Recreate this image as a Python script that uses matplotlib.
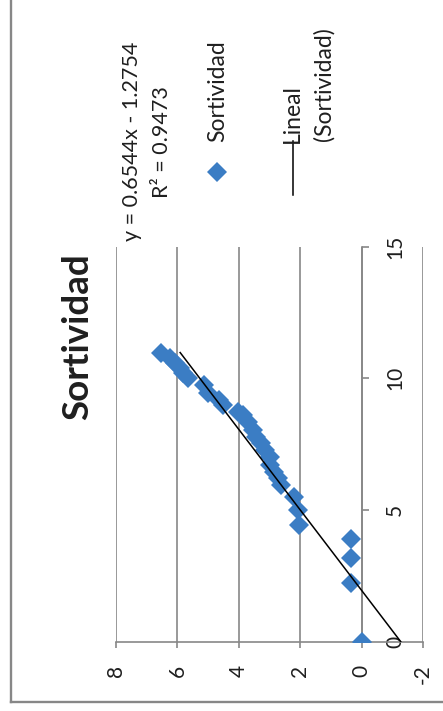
import matplotlib
matplotlib.use("Agg")
import matplotlib.pyplot as plt
from matplotlib.lines import Line2D
import numpy as np

plt.rcParams['font.family'] = ['Lato', 'DejaVu Sans']
plt.rcParams['axes.unicode_minus'] = False

# data (x = time-like axis, y = sortividad)
x_vals = [0.0, 2.22, 3.17, 3.89, 4.43, 5.0, 5.51, 5.95, 6.2, 6.46, 6.71, 7.03,
          7.28, 7.53, 7.79, 8.04, 8.36, 8.61, 8.74, 8.99, 9.18, 9.43, 9.75,
          10.0, 10.19, 10.38, 10.57, 10.76, 10.98]
y_vals = [0.0, 0.33, 0.33, 0.33, 2.03, 2.08, 2.19, 2.62, 2.73, 2.84, 3.0, 3.0,
          3.16, 3.27, 3.43, 3.54, 3.71, 3.87, 4.03, 4.52, 4.63, 5.01, 5.12,
          5.66, 5.82, 5.93, 6.09, 6.25, 6.52]
slope, intercept = 0.6544, -1.2754
r2 = 0.9473
x_ticks = [0, 5, 10, 15]
y_ticks = [8, 6, 4, 2, 0, -2]

blue = '#3b7dc4'
gray = '#878787'
txt = '#1f1f1f'
msize = 10.5

W, H = 443, 711
fig = plt.figure(figsize=(W / 100, H / 100), dpi=100)

# chart is drawn rotated 90 degrees: horizontal = y (reversed), vertical = x
left, right, top, bottom = 116, 423, 246.7, 641.7
ax = fig.add_axes([left / W, 1 - bottom / H, (right - left) / W, (bottom - top) / H])
ax.set_xlim(8, -2)
ax.set_ylim(0, 15)

ax.plot(y_vals, x_vals, linestyle='none', marker='D', markersize=msize,
        color=blue, markeredgewidth=0, zorder=3)
xf = np.array([0, max(x_vals)])
ax.plot(slope * xf + intercept, xf, color='black', lw=1.1, zorder=4)

ax.set_xticks(y_ticks)
ax.set_xticklabels([str(v) for v in y_ticks])
ax.set_yticks(x_ticks)
ax.set_yticklabels([str(v) for v in x_ticks])
ax.grid(axis='x', color=gray, lw=1.2)
ax.set_axisbelow(True)

for s in ['top', 'left']:
    ax.spines[s].set_visible(False)
ax.spines['bottom'].set_color(gray)
ax.spines['bottom'].set_linewidth(1.2)
ax.spines['right'].set_position(('data', 0))
ax.spines['right'].set_color(gray)
ax.spines['right'].set_linewidth(1.2)
ax.yaxis.set_ticks_position('right')

ax.tick_params(axis='x', direction='out', length=4.5, width=1.2, color=gray,
               labelsize=15, labelrotation=90, pad=12, labelcolor=txt)
ax.tick_params(axis='y', direction='out', length=5, width=1.2, color=gray,
               labelsize=15, labelrotation=90, pad=12, labelcolor=txt)
for lab in ax.get_yticklabels():
    lab.set_va('center')

# title
fig.text(78 / W, 1 - 337 / H, 'Sortividad', rotation=90, fontsize=26.5,
         fontweight='bold', ha='center', va='center', color=txt)

# trendline equation
fig.text(132 / W, 1 - 141 / H, 'y = 0.6544x - 1.2754', rotation=90,
         fontsize=15.5, ha='center', va='center', color=txt)
fig.text(162 / W, 1 - 142.5 / H, 'R² = %.4f' % r2, rotation=90,
         fontsize=15.5, ha='center', va='center', color=txt)

# legend
fig.add_artist(Line2D([217.3 / W], [1 - 171.7 / H], marker='D', markersize=msize,
                      color=blue, markeredgewidth=0, linestyle='none'))
fig.text(218 / W, 1 - 141.7 / H, 'Sortividad', rotation=90, fontsize=16.5,
         ha='center', va='bottom', color=txt)
fig.add_artist(Line2D([292.7 / W, 292.7 / W], [1 - 141 / H, 1 - 195 / H],
                      color='black', lw=1.1))
fig.text(292 / W, 1 - 143 / H, 'Lineal', rotation=90, fontsize=16.5,
         ha='center', va='bottom', color=txt)
fig.text(324 / W, 1 - 141 / H, '(Sortividad)', rotation=90, fontsize=16.5,
         ha='center', va='bottom', color=txt)

# chart border (left and bottom visible in the crop)
fig.add_artist(Line2D([11 / W, 11 / W], [1.0, 1 - 702 / H], color=gray, lw=1.7))
fig.add_artist(Line2D([11 / W, 1.0], [1 - 702 / H, 1 - 702 / H], color=gray, lw=1.7))

fig.savefig('out.png', dpi=100)
